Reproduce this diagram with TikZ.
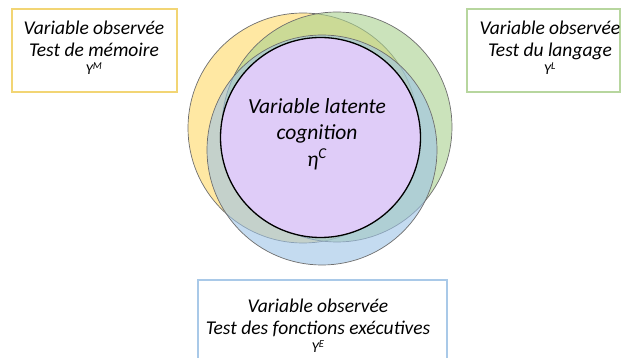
\documentclass[tikz,border=0pt]{standalone}
\usepackage{fontspec}
\setmainfont{Carlito}
\usetikzlibrary{positioning}

\definecolor{jaune}{HTML}{FFD966}
\definecolor{vert}{HTML}{A9D18E}
\definecolor{bleu}{HTML}{9DC3E6}
\definecolor{violet}{HTML}{DFCCF8}
\definecolor{cadreJ}{HTML}{F2D574}
\definecolor{cadreV}{HTML}{B7D69E}
\definecolor{cadreB}{HTML}{A9C9E8}
\definecolor{trait}{HTML}{6E6E6E}

\begin{document}
\begin{tikzpicture}[x=1pt,y=-1pt,
  cercle/.style={draw=trait,line width=0.7pt,fill opacity=0.6},
  cadre/.style={draw=#1,line width=1.3pt,fill=none},
  obs/.style={font=\fontsize{19.5}{22}\selectfont\itshape,align=center,inner sep=0pt}]
\useasboundingbox (0,0) rectangle (621,358);
\clip (0,0) rectangle (621,358);

\coordinate (Y) at (303,128);
\coordinate (G) at (337,127);
\coordinate (B) at (322,150);
\coordinate (C) at (320.5,137.5);

\fill[white] (0,0) rectangle (621,358);

\draw[cercle,fill=jaune] (Y) circle [radius=115];
\draw[cercle,fill=vert] (G) circle [radius=115];
\draw[cercle,fill=bleu] (B) circle [radius=115];
\draw[fill=violet,draw=black,line width=1.3pt] (C) circle [radius=100];

\node[cadre=cadreJ,minimum width=165pt,minimum height=83pt] (BM) at (94.5,50.5) {};
\node[cadre=cadreV,minimum width=153pt,minimum height=83pt] (BL) at (543.5,50.5) {};
\node[cadre=cadreB,minimum width=249pt,minimum height=100pt] (BE) at (322.5,330) {};

\node[obs] (M) at (94,48) {Variable observée\\Test de mémoire\\[-4pt]{\fontsize{15}{15}\selectfont Y\textsuperscript{M}}};
\node[obs] (L) at (550,48) {Variable observée\\Test du langage\\[-4pt]{\fontsize{15}{15}\selectfont Y\textsuperscript{L}}};
\node[obs] (E) at (318,326) {Variable observée\\Test des fonctions exécutives\\[-4pt]{\fontsize{15}{15}\selectfont Y\textsuperscript{E}}};

\node[font=\fontsize{21.5}{26.5}\selectfont\itshape,align=center,inner sep=0pt] (LC) at (317,134)
  {Variable latente\\cognition\\η\textsuperscript{C}};

\end{tikzpicture}
\end{document}
